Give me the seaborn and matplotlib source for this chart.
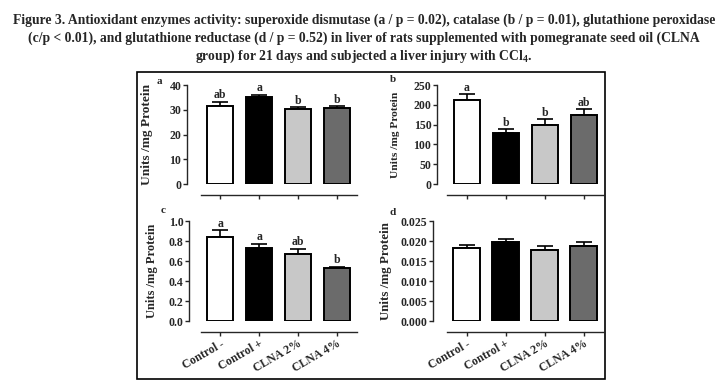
import numpy as np
import pandas as pd
import seaborn as sns
import matplotlib.pyplot as plt
from matplotlib.patches import Rectangle
from matplotlib.ticker import FormatStrFormatter

# data (mean and SEM, upward error bars only)
groups = ['Control -', 'Control +', 'CLNA 2%', 'CLNA 4%']
bar_colors = ['#ffffff', '#000000', '#c8c8c8', '#6b6b6b']

sod_mean = [31.4, 35.0, 30.2, 30.6]
sod_sem = [1.9, 1.0, 0.8, 0.9]
sod_letters = ['ab', 'a', 'b', 'b']

cat_mean = [211, 129, 150, 174]
cat_sem = [16, 10, 14, 15]
cat_letters = ['a', 'b', 'b', 'ab']

gpx_mean = [0.84, 0.73, 0.67, 0.53]
gpx_sem = [0.07, 0.045, 0.055, 0.015]
gpx_letters = ['a', 'a', 'ab', 'b']

gr_mean = [0.0182, 0.0197, 0.0178, 0.0188]
gr_sem = [0.0009, 0.0009, 0.0010, 0.0010]
gr_letters = ['', '', '', '']

title_lines = [
    'Figure 3. Antioxidant enzymes activity: superoxide dismutase (a / p = 0.02), catalase (b / p = 0.01), glutathione peroxidase',
    '(c/p < 0.01), and glutathione reductase (d / p = 0.52) in liver of rats supplemented with pomegranate seed oil (CLNA',
    'group) for 21 days and subjected a liver injury with CCl$_4$.',
]

sns.set_style('ticks')
plt.rcParams['font.family'] = ['Liberation Serif', 'DejaVu Serif']
plt.rcParams['font.weight'] = 'bold'
plt.rcParams['mathtext.fontset'] = 'custom'
plt.rcParams['mathtext.rm'] = 'Liberation Serif:bold'
plt.rcParams['mathtext.default'] = 'rm'

W, H = 728, 392
fig = plt.figure(figsize=(W / 100, H / 100), dpi=100)

# outer frame around the four panels
fig.add_artist(Rectangle((137 / W, 1 - 379 / H), (605 - 137) / W, (379 - 72) / H,
                         transform=fig.transFigure, fill=False, edgecolor='black', linewidth=1.2))

for i, line in enumerate(title_lines):
    fig.text(0.5, 1 - (20 + 18 * i) / H, line, ha='center', va='center', fontsize=9.8, fontweight='bold')

UNIT = 39.0  # pixels per bar slot


def draw_panel(yaxis_px, top_px, bottom_px, xleft, means, sems, letters, ymax, step, fmt,
               tag, tag_xy, ylab_x, ylab_size, show_labels):
    width = (3.55 - xleft) * UNIT
    ax = fig.add_axes([yaxis_px / W, 1 - bottom_px / H, width / W, (bottom_px - top_px) / H])
    sns.barplot(x=groups, y=means, hue=groups, palette=bar_colors, legend=False, errorbar=None,
                width=0.67, edgecolor='black', linewidth=1.4, ax=ax, zorder=3)
    ax.errorbar(range(len(groups)), means, yerr=[np.zeros(len(means)), sems], fmt='none',
                ecolor='black', elinewidth=1.2, capsize=6, capthick=1.2, zorder=2)
    for j, lab in enumerate(letters):
        if lab:
            ax.annotate(lab, (j, means[j] + sems[j]), xytext=(0, 0.3), textcoords='offset points',
                        ha='center', va='bottom', fontsize=8.5, fontweight='bold', clip_on=False)
    ax.set_xlim(xleft, 3.55)
    ax.set_ylim(0, ymax)
    ax.set_yticks(np.arange(0, ymax + step / 2, step))
    ax.yaxis.set_major_formatter(FormatStrFormatter(fmt))
    for s in ['top', 'right']:
        ax.spines[s].set_visible(False)
    ax.spines['left'].set_bounds(0, ymax)
    ax.spines['bottom'].set_bounds(-0.5, 3.5)
    ax.spines['bottom'].set_position(('outward', 8))
    for s in ['left', 'bottom']:
        ax.spines[s].set_linewidth(1.0)
    ax.tick_params(axis='both', length=3, width=1.0, pad=1, labelsize=8.5)
    ax.set_xticks(range(len(groups)))
    if show_labels:
        ax.set_xticklabels(groups, rotation=30, ha='right', rotation_mode='anchor', fontsize=8.5,
                           fontweight='bold')
    else:
        ax.tick_params(axis='x', labelbottom=False)
    ax.set_xlabel('')
    ax.set_ylabel('Units /mg Protein', fontsize=ylab_size, fontweight='bold')
    ax.yaxis.set_label_coords((ylab_x - yaxis_px) / width, 0.5)
    fig.text(tag_xy[0] / W, 1 - tag_xy[1] / H, tag, ha='center', va='center', fontsize=8,
             fontweight='bold')
    return ax


draw_panel(187, 85, 184, -0.85, sod_mean, sod_sem, sod_letters, 40, 10, '%d',
           'a', (159, 82), 153, 9.6, False)
draw_panel(437, 85, 184, -0.76, cat_mean, cat_sem, cat_letters, 250, 50, '%d',
           'b', (393, 80), 400, 8.2, False)
draw_panel(189, 221, 321, -0.80, gpx_mean, gpx_sem, gpx_letters, 1.0, 0.2, '%.1f',
           'c', (163, 211), 158, 9.0, True)
draw_panel(433, 221, 321, -0.86, gr_mean, gr_sem, gr_letters, 0.025, 0.005, '%.3f',
           'd', (393, 212), 392, 9.4, True)

plt.savefig('out.png', dpi=100)
